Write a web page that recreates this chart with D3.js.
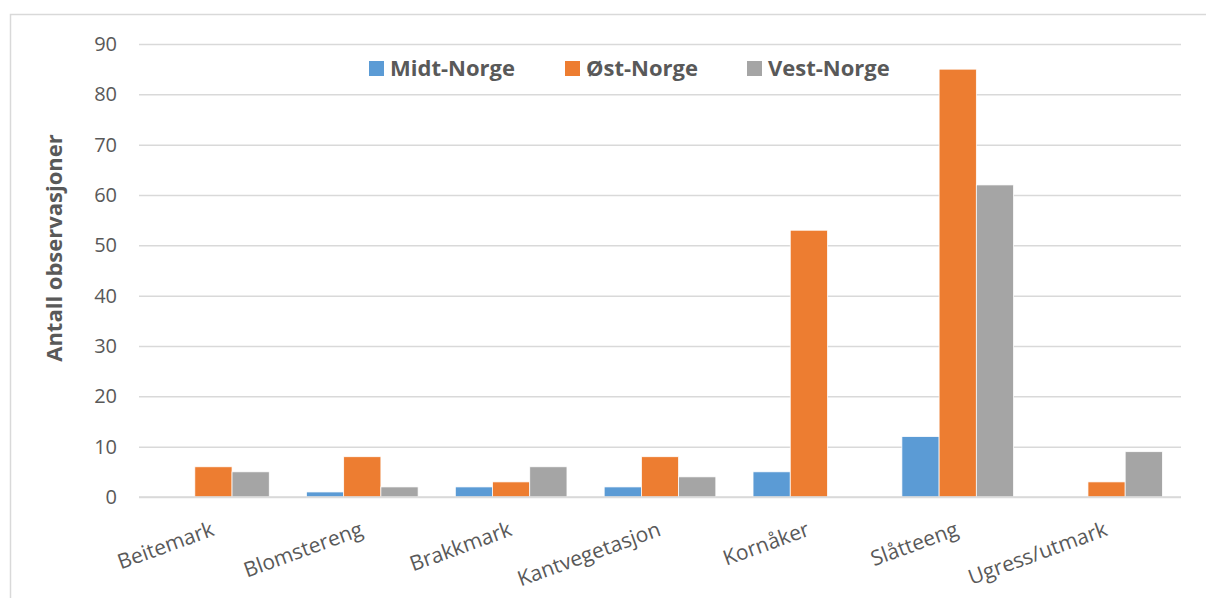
<!DOCTYPE html>
<html>
<head>
<meta charset="utf-8">
<script src="https://cdn.jsdelivr.net/npm/d3@7"></script>
<style>
  body { margin: 0; background: #fff; }
  text { font-family: "Open Sans", sans-serif; fill: #595959; }
</style>
</head>
<body>
<div id="chart"></div>
<script>
var categories = ["Beitemark", "Blomstereng", "Brakkmark", "Kantvegetasjon", "Kornåker", "Slåtteeng", "Ugress/utmark"];
var seriesNames = ["Midt-Norge", "Øst-Norge", "Vest-Norge"];
var midtNorge = [0, 1, 2, 2, 5, 12, 0];
var ostNorge = [6, 8, 3, 8, 53, 85, 3];
var vestNorge = [5, 2, 6, 4, 0, 62, 9];
var yTicks = [0, 10, 20, 30, 40, 50, 60, 70, 80, 90];
var colors = ["#5B9BD5", "#ED7D31", "#A5A5A5"];

var svgWidth = 1206;
var svgHeight = 598;
var margin = { top: 44, right: 25, bottom: 101, left: 139 };
var width = svgWidth - margin.left - margin.right;
var height = svgHeight - margin.top - margin.bottom;

var svg = d3.select("#chart")
  .append("svg")
  .attr("width", svgWidth)
  .attr("height", svgHeight);

// outer chart border
svg.append("rect")
  .attr("x", 10.5)
  .attr("y", 14.5)
  .attr("width", 1210)
  .attr("height", 600)
  .attr("fill", "none")
  .attr("stroke", "#d9d9d9")
  .attr("stroke-width", 1.5);

var chartGroup = svg.append("g")
  .attr("transform", `translate(${margin.left}, ${margin.top})`);

var data = categories.map((c, i) => ({
  category: c,
  values: [midtNorge[i], ostNorge[i], vestNorge[i]]
}));

var x0 = d3.scaleBand()
  .domain(categories)
  .range([0, width])
  .paddingInner(0.25)
  .paddingOuter(0.125);

var x1 = d3.scaleBand()
  .domain(d3.range(seriesNames.length))
  .range([0, x0.bandwidth()]);

var y = d3.scaleLinear()
  .domain([0, 90])
  .range([height, 0]);

// gridlines
chartGroup.append("g")
  .call(d3.axisLeft(y).tickValues(yTicks).tickSize(-width).tickFormat(""))
  .call(g => g.select(".domain").remove())
  .call(g => g.selectAll("line").attr("stroke", "#d9d9d9").attr("stroke-width", 1.5));

// y axis labels
chartGroup.append("g")
  .call(d3.axisLeft(y).tickValues(yTicks).tickSize(0).tickPadding(22))
  .call(g => g.select(".domain").remove())
  .call(g => g.selectAll("text")
    .style("font-size", "20px")
    .attr("fill", "#595959"));

// bars
var groups = chartGroup.selectAll(".group")
  .data(data)
  .enter()
  .append("g")
  .attr("transform", d => `translate(${x0(d.category)},0)`);

groups.selectAll("rect")
  .data(d => d.values.map((v, i) => ({ v: v, i: i })))
  .enter()
  .append("rect")
  .filter(d => d.v > 0)
  .attr("x", d => x1(d.i))
  .attr("y", d => y(d.v))
  .attr("width", x1.bandwidth())
  .attr("height", d => y(0) - y(d.v))
  .attr("fill", d => colors[d.i])
  .attr("stroke", "#fff")
  .attr("stroke-width", 0.75);

// baseline
chartGroup.append("line")
  .attr("x1", 0)
  .attr("x2", width)
  .attr("y1", y(0))
  .attr("y2", y(0))
  .attr("stroke", "#d9d9d9")
  .attr("stroke-width", 1.5);

// category labels
chartGroup.selectAll(".catLabel")
  .data(categories)
  .enter()
  .append("text")
  .attr("transform", d => `translate(${x0(d) + x0.bandwidth() / 2 + 2}, ${height + 38}) rotate(-20)`)
  .attr("text-anchor", "end")
  .style("font-size", "21px")
  .text(d => d);

// y axis title
svg.append("text")
  .attr("transform", "translate(62, 248) rotate(-90)")
  .attr("text-anchor", "middle")
  .style("font-size", "22px")
  .style("font-weight", "bold")
  .text("Antall observasjoner");

// legend
var legendX = [369, 565, 747];
var legend = svg.selectAll(".legend")
  .data(seriesNames)
  .enter()
  .append("g")
  .attr("transform", (d, i) => `translate(${legendX[i]}, 61)`);

legend.append("rect")
  .attr("width", 15)
  .attr("height", 15)
  .attr("fill", (d, i) => colors[i]);

legend.append("text")
  .attr("x", 21)
  .attr("y", 15)
  .style("font-size", "22px")
  .style("font-weight", "bold")
  .text(d => d);
</script>
</body>
</html>
